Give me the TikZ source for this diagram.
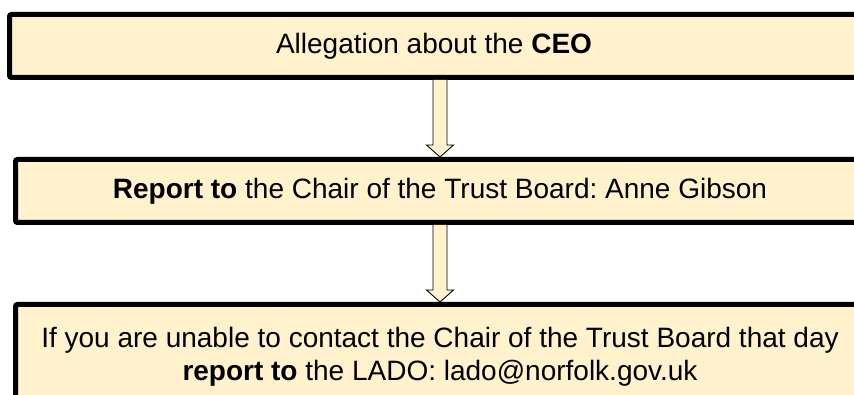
\documentclass[tikz,border=0pt]{standalone}
\usepackage{fontspec}
\setmainfont{Liberation Sans}
\usetikzlibrary{positioning, calc}
\definecolor{boxfill}{HTML}{FFF2CC}
\frenchspacing

\begin{document}
\begin{tikzpicture}[auto, node distance=77pt]
  \tikzstyle{block} = [draw, fill=boxfill, rectangle, line width=5pt, rounded corners=2pt, minimum width=849pt, minimum height=63pt, font=\fontsize{28pt}{33pt}\selectfont, align=center]
  \tikzstyle{blockarrow} = [draw, fill=boxfill, line width=0.9pt, line join=miter]
  \useasboundingbox (0,0) rectangle (854pt,-395pt);
  \node [block] (ceo) at (434pt,-46pt) {Allegation about the \textbf{CEO}};
  \node [block, below=of ceo, xshift=6pt] (chair) {\textbf{Report to} the Chair of the Trust Board: Anne Gibson};
  \node [block, below=of chair, minimum height=104pt] (lado) {If you are unable to contact the Chair of the Trust Board that day\\ \textbf{report to} the LADO: lado@norfolk.gov.uk};

  \foreach \a/\b in {ceo/chair, chair/lado}
    \draw [blockarrow] ($(\a.south -| \b.north)+(-7pt,0)$) -- ($(\b.north)+(-7pt,12pt)$) -- ++(-6.5pt,0) -- (\b.north) -- ++(13.5pt,12pt) -- ++(-6.5pt,0) -- ($(\a.south -| \b.north)+(7pt,0)$);
\end{tikzpicture}
\end{document}
